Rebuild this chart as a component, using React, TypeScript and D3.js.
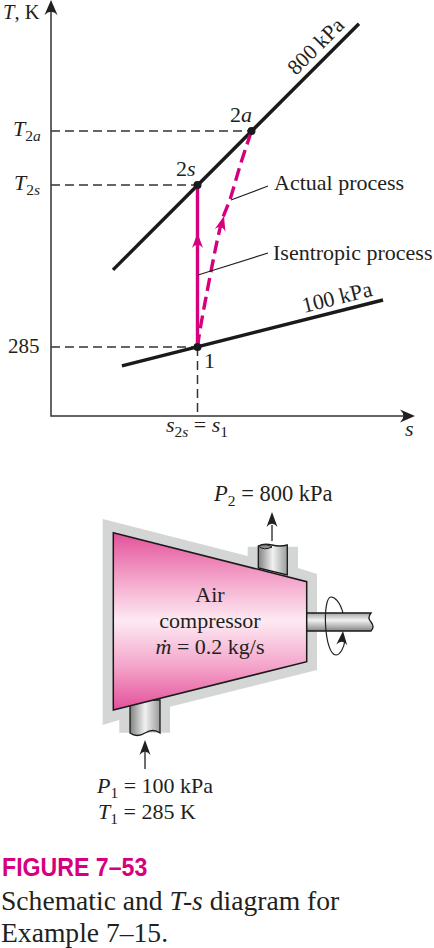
import * as d3 from "d3";

// T-s diagram values (entropy is relative: s1 = 0, s2a = 1)
const S_1 = 0;
const S_2A = 1;
const T_1 = 285;
const T_2S = 516;
const T_2A = 593;
const isobar800: [number, number][] = [[-1.565, 395], [2.99, 746]];
const isobar100: [number, number][] = [[-1.4, 258], [3.435, 352]];
const actualProcess: [number, number][] = [
  [0, 285], [0.046, 309], [0.23, 385], [0.38, 442], [0.47, 469], [0.6, 495], [0.79, 544], [1, 593],
];

const INK = "#231f20";
const MAGENTA = "#d6007f";
const SERIF = "'Liberation Serif', serif";

const x = d3.scaleLinear().domain([0, 1]).range([197.5, 251.5]);
const y = d3.scaleLinear().domain([285, 516]).range([347, 185]);
const lineGen = d3.line<[number, number]>().x(d => x(d[0])).y(d => y(d[1]));
const curveGen = d3.line<[number, number]>().x(d => x(d[0])).y(d => y(d[1])).curve(d3.curveCatmullRom);

// stealth arrow head, tip at (tx, ty), angle in degrees (0 = pointing up)
const Head = ({tx, ty, angle = 0, len = 15, w = 6, fill = INK}: any) => (
  <path
    d={`M0,0 L${w},${len} Q0,${len * 0.55} ${-w},${len} Z`}
    transform={`translate(${tx},${ty}) rotate(${angle})`}
    fill={fill}
  />
);

const Label = ({children, ...rest}: any) => (
  <text fontFamily={SERIF} fontSize={22} fill={INK} {...rest}>{children}</text>
);

const Sub = ({children}: any) => <tspan dy={5} fontSize={15.5}>{children}</tspan>;
const It = ({children}: any) => <tspan fontStyle="italic">{children}</tspan>;

const App = () => {
  const dashed = {stroke: "#333", strokeWidth: 1.5, strokeDasharray: "9 5", fill: "none"};

  return (
    <svg width={434} height={948} style={{position: "absolute", left: 0, top: 0, background: "#fff"}}>
      <defs>
        <linearGradient id="body" gradientUnits="userSpaceOnUse" x1={0} y1={532} x2={0} y2={710}>
          <stop offset="0" stopColor="#e3509a" />
          <stop offset="0.27" stopColor="#f4a6cb" />
          <stop offset="0.5" stopColor="#fdeaf3" />
          <stop offset="0.75" stopColor="#f4a6cb" />
          <stop offset="1" stopColor="#e3509a" />
        </linearGradient>
        <linearGradient id="pipeV" x1="0" y1="0" x2="1" y2="0">
          <stop offset="0" stopColor="#7f8180" />
          <stop offset="0.5" stopColor="#f1f1f1" />
          <stop offset="1" stopColor="#9a9c9b" />
        </linearGradient>
        <linearGradient id="pipeH" x1="0" y1="0" x2="0" y2="1">
          <stop offset="0" stopColor="#a5a7a6" />
          <stop offset="0.4" stopColor="#f1f1f1" />
          <stop offset="1" stopColor="#858786" />
        </linearGradient>
      </defs>

      {/* T-s diagram */}
      <path d={`M51,10 V416 H405`} fill="none" stroke="#333" strokeWidth={1.5} />
      <Head tx={51} ty={0} len={15} w={6.5} />
      <Head tx={415} ty={416} angle={90} len={15} w={6.5} />

      <path d={`M51,${y(T_2A)} H${x(S_2A)}`} {...dashed} />
      <path d={`M51,${y(T_2S)} H${x(S_1)}`} {...dashed} />
      <path d={`M51,${y(T_1)} H${x(S_1)}`} {...dashed} />
      <path d={`M${x(S_1)},${y(T_1)} V416`} {...dashed} />

      <path d={lineGen(isobar800)!} stroke="#1a1a1a" strokeWidth={3.4} fill="none" />
      <path d={lineGen(isobar100)!} stroke="#1a1a1a" strokeWidth={3.4} fill="none" />

      <path d={lineGen([[S_1, T_1], [S_1, T_2S]])!} stroke={MAGENTA} strokeWidth={3.4} fill="none" />
      <path d={curveGen(actualProcess)!} stroke={MAGENTA} strokeWidth={3.4} strokeDasharray="13 6" fill="none" />
      <Head tx={x(S_1)} ty={233} len={15} w={5.5} fill={MAGENTA} />
      <Head tx={224} ty={216} angle={15} len={15} w={5.5} fill={MAGENTA} />

      <path d="M268,186 L231,200" stroke={INK} strokeWidth={1.2} fill="none" />
      <path d="M268,253 L198,275" stroke={INK} strokeWidth={1.2} fill="none" />

      <circle cx={x(S_2A)} cy={y(T_2A)} r={4} fill="#1a1a1a" />
      <circle cx={x(S_1)} cy={y(T_2S)} r={4} fill="#1a1a1a" />
      <circle cx={x(S_1)} cy={y(T_1)} r={4} fill="#1a1a1a" />

      <Label x={3} y={18.5} fontSize={20.5}><It>T</It>, K</Label>
      <Label x={13} y={136}><It>T</It><Sub>2<It>a</It></Sub></Label>
      <Label x={14} y={190}><It>T</It><Sub>2<It>s</It></Sub></Label>
      <Label x={8} y={353} fontSize={21}>285</Label>
      <Label x={230} y={122}>2<It>a</It></Label>
      <Label x={176} y={176}>2<It>s</It></Label>
      <Label x={204} y={368}>1</Label>
      <Label transform="translate(296,76) rotate(-45)" fontSize={21.5}>800 kPa</Label>
      <Label transform="translate(304,313) rotate(-14)">100 kPa</Label>
      <Label x={274} y={190}>Actual process</Label>
      <Label x={273} y={260}>Isentropic process</Label>
      <Label x={166} y={432}><It>s</It><Sub>2<It>s</It></Sub><tspan dy={-5}> = </tspan><It>s</It><Sub>1</Sub></Label>
      <Label x={405} y={436}><It>s</It></Label>

      {/* compressor schematic */}
      <path
        d="M102.7,519 L247.7,556 V546.7 H298 V568 L317,574 V670 L170,706.7 V732.7 H119.3 V720 L102.7,725 Z"
        fill="#d4d5d5"
      />
      <path d="M258.3,546 Q264,543 272,545 T287.3,545 V575 L258.3,568 Z" fill="url(#pipeV)" stroke="#1a1a1a" strokeWidth={1.3} />
      <path d="M258.3,546 Q264,551 272,547 Q267,543 258.3,546 Z" fill="#8f9190" stroke="#1a1a1a" strokeWidth={1} />
      <path d="M130,700 V733 Q137,738 145,733 T160,733 V700 Z" fill="url(#pipeV)" stroke="#1a1a1a" strokeWidth={1.3} />
      <path d="M306,613 H371 Q367,618 371,622 Q375,627 371,631 H306 Z" fill="url(#pipeH)" stroke="#1a1a1a" strokeWidth={1.3} />
      <path d="M113.3,532.7 L306.7,581.7 V661.7 L113.3,710 Z" fill="url(#body)" stroke="#1a1a1a" strokeWidth={1.5} />

      {/* rotation ring round the shaft */}
      <path d="M343,613 C340,602 335,597 331,597 C322,597 324,655 336,655 C340,655 344,648 345,640" fill="none" stroke={INK} strokeWidth={1.2} />
      <Head tx={343} ty={631} angle={5} len={14} w={5.5} />

      <path d="M272,541 V525" stroke={INK} strokeWidth={1.3} />
      <Head tx={272} ty={512} len={15} w={5.5} />
      <path d="M145,769 V752" stroke={INK} strokeWidth={1.3} />
      <Head tx={145} ty={740} len={15} w={5.5} />

      <Label x={210} y={602} textAnchor="middle">Air</Label>
      <Label x={210} y={628} textAnchor="middle">compressor</Label>
      <Label x={210} y={654} textAnchor="middle"><It>ṁ</It> = 0.2 kg/s</Label>

      <Label x={214} y={501} fontSize={22.5}><It>P</It><Sub>2</Sub><tspan dy={-5}> = 800 kPa</tspan></Label>
      <Label x={97} y={793}><It>P</It><Sub>1</Sub><tspan dy={-5}> = 100 kPa</tspan></Label>
      <Label x={98} y={819}><It>T</It><Sub>1</Sub><tspan dy={-5}> = 285 K</tspan></Label>

      {/* caption */}
      <text
        transform="translate(2,876) scale(0.89,1)"
        fontFamily="'Liberation Sans', sans-serif"
        fontWeight="bold"
        fontSize={26}
        fill={MAGENTA}
      >
        FIGURE 7–53
      </text>
      <Label x={1} y={910} fontSize={27.6}>Schematic and <It>T-s</It> diagram for</Label>
      <Label x={1} y={942} fontSize={27.6}>Example 7–15.</Label>
    </svg>
  );
};

export default App;
